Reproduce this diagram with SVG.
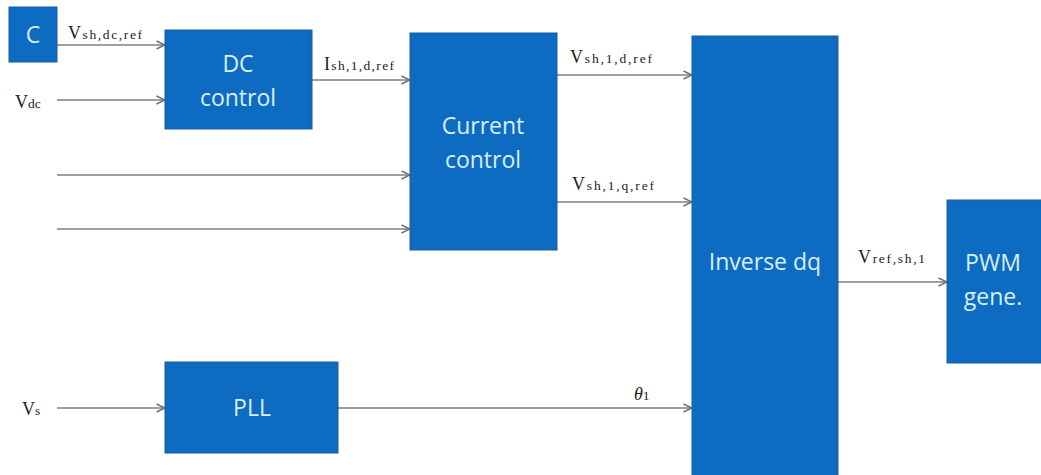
<svg xmlns="http://www.w3.org/2000/svg" width="1041" height="475" viewBox="0 0 1041 475">
<style>
.box{fill:#0d6cc2;stroke:#1b5c9e;stroke-width:1}
.bt{font-family:"Open Sans","Liberation Sans",sans-serif;font-size:23px;fill:#d9eeff;text-anchor:middle}
.ln{stroke:#7f7f7f;stroke-width:1.6;fill:none;marker-end:url(#ah)}
.lb{font-family:"Liberation Serif",serif;font-size:18px;fill:#222}
.sb{font-size:13.5px}
</style>
<defs>
<marker id="ah" viewBox="0 0 10 10" refX="9.5" refY="5" markerWidth="10" markerHeight="10" markerUnits="userSpaceOnUse" orient="auto">
<path d="M1,1 L9.5,5 L1,9" fill="none" stroke="#6f6f6f" stroke-width="1.4"/>
</marker>
</defs>
<rect width="1041" height="475" fill="#fff"/>
<g id="connectors">
<line class="ln" x1="57" y1="45" x2="165" y2="45"/>
<line class="ln" x1="57" y1="100" x2="165" y2="100"/>
<line class="ln" x1="312" y1="80" x2="410" y2="80"/>
<line class="ln" x1="57" y1="175" x2="410" y2="175"/>
<line class="ln" x1="57" y1="229" x2="410" y2="229"/>
<line class="ln" x1="557" y1="75" x2="692" y2="75"/>
<line class="ln" x1="557" y1="202" x2="692" y2="202"/>
<line class="ln" x1="838" y1="282" x2="947" y2="282"/>
<line class="ln" x1="57" y1="408" x2="165" y2="408"/>
<line class="ln" x1="338" y1="408" x2="692" y2="408"/>
</g>
<g id="labels">
<text class="lb" x="68" y="39" textLength="74" lengthAdjust="spacing">V<tspan class="sb">sh,dc,ref</tspan></text>
<text class="lb" x="15" y="108">V<tspan class="sb">dc</tspan></text>
<text class="lb" x="324" y="70" textLength="70" lengthAdjust="spacing">I<tspan class="sb">sh,1,d,ref</tspan></text>
<text class="lb" x="570" y="63" textLength="82" lengthAdjust="spacing">V<tspan class="sb">sh,1,d,ref</tspan></text>
<text class="lb" x="572" y="190" textLength="82" lengthAdjust="spacing">V<tspan class="sb">sh,1,q,ref</tspan></text>
<text class="lb" x="858" y="263" textLength="67" lengthAdjust="spacing">V<tspan class="sb">ref,sh,1</tspan></text>
<text class="lb" x="22" y="415">V<tspan class="sb">s</tspan></text>
<text class="lb" x="634" y="400" font-style="italic">θ<tspan class="sb" font-style="normal">1</tspan></text>
</g>
<g id="node-c"><rect class="box" x="9" y="7" width="48" height="55"/><text class="bt" x="33" y="43">C</text></g>
<g id="node-dc"><rect class="box" x="165" y="30" width="147" height="99"/><text class="bt" x="238" y="72">DC</text><text class="bt" x="238" y="106">control</text></g>
<g id="node-current"><rect class="box" x="410" y="33" width="147" height="217"/><text class="bt" x="483" y="134">Current</text><text class="bt" x="483" y="168">control</text></g>
<g id="node-inverse"><rect class="box" x="692" y="36" width="146" height="445"/><text class="bt" x="765" y="270">Inverse dq</text></g>
<g id="node-pwm"><rect class="box" x="947" y="200" width="96" height="163"/><text class="bt" x="993" y="271">PWM</text><text class="bt" x="993" y="305">gene.</text></g>
<g id="node-pll"><rect class="box" x="165" y="362" width="173" height="91"/><text class="bt" x="252" y="416">PLL</text></g>
</svg>
